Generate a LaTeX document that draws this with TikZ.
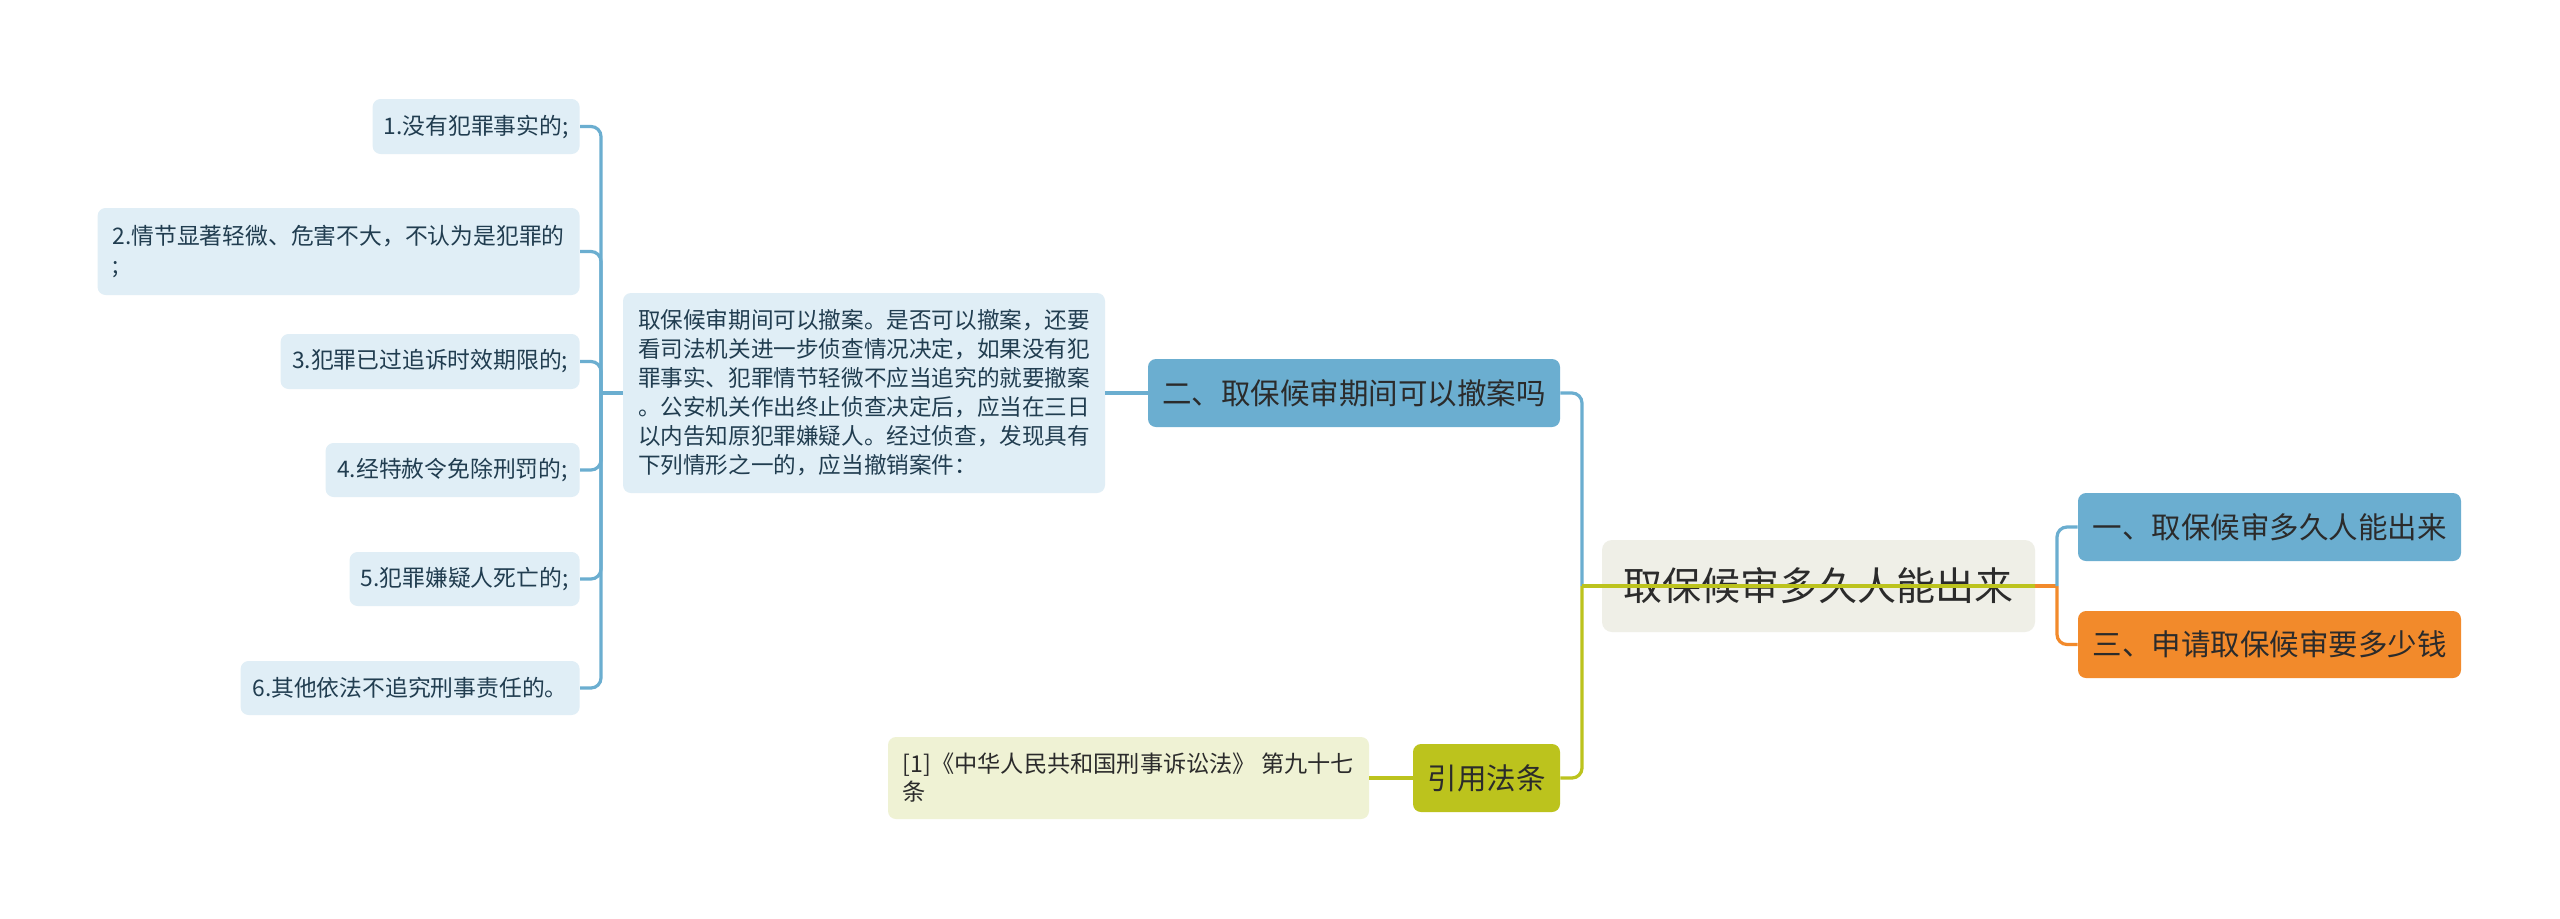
\documentclass[tikz,border=0pt]{standalone}
\usepackage{fontspec}
\setmainfont{Noto Sans CJK SC}
\definecolor{leaffill}{HTML}{E0EEF6}
\definecolor{leaftext}{HTML}{213D50}
\definecolor{bluec}{HTML}{6BAED0}
\definecolor{orangec}{HTML}{F28A2B}
\definecolor{olivec}{HTML}{BCC31D}
\definecolor{rootfill}{HTML}{EFEFE7}
\definecolor{reffill}{HTML}{EFF2D4}
\definecolor{darktext}{HTML}{2B2B2B}
\tikzset{
  leafbox/.style={fill=leaffill, rounded corners=4pt, inner sep=0pt, text=leaftext,
    font=\fontsize{11.4}{14.5}\selectfont, align=left},
  branchbox/.style={rounded corners=4pt, inner sep=0pt, text=darktext,
    font=\fontsize{14.75}{18}\selectfont},
  rootbox/.style={fill=rootfill, rounded corners=5pt, inner sep=0pt, text=darktext,
    font=\fontsize{19.5}{24}\selectfont},
  conn/.style={line width=1.6pt, rounded corners=5pt},
  blueline/.style={conn, draw=bluec},
  greenline/.style={conn, draw=olivec},
  orangeline/.style={conn, draw=orangec},
}
\begin{document}
\begin{tikzpicture}[x=0.5pt, y=-0.5pt]
\useasboundingbox (0,0) rectangle (2560,918);
\fill[white] (0,0) rectangle (2560,918);

% leaves
\node[leafbox, anchor=east, minimum width=103.5pt, minimum height=27.5pt] (l1) at (580,126.5) {1.没有犯罪事实的;};
\node[leafbox, anchor=east, minimum width=241pt, minimum height=43.5pt] (l2) at (580,251.5) {2.情节显著轻微、危害不大，不认为是犯罪的\\;};
\node[leafbox, anchor=east, minimum width=149.5pt, minimum height=27.5pt] (l3) at (580,361.5) {3.犯罪已过追诉时效期限的;};
\node[leafbox, anchor=east, minimum width=127pt, minimum height=27pt] (l4) at (580,470) {4.经特赦令免除刑罚的;};
\node[leafbox, anchor=east, minimum width=115pt, minimum height=27pt] (l5) at (580,579) {5.犯罪嫌疑人死亡的;};
\node[leafbox, anchor=east, minimum width=169.5pt, minimum height=27pt] (l6) at (580,688) {6.其他依法不追究刑事责任的。};

% description
\node[leafbox, font=\fontsize{11.3}{14.5}\selectfont, minimum width=241pt, minimum height=100pt] (desc) at (864,393) {取保候审期间可以撤案。是否可以撤案，还要\\看司法机关进一步侦查情况决定，如果没有犯\\罪事实、犯罪情节轻微不应当追究的就要撤案\\。公安机关作出终止侦查决定后，应当在三日\\以内告知原犯罪嫌疑人。经过侦查，发现具有\\下列情形之一的，应当撤销案件：};

% branches
\node[branchbox, fill=bluec, minimum width=206pt, minimum height=34pt] (n2) at (1354,393) {二、取保候审期间可以撤案吗};
\node[rootbox, minimum width=216.5pt, minimum height=46pt] (root) at (1818.5,586) {取保候审多久人能出来};
\node[branchbox, fill=bluec, minimum width=191.5pt, minimum height=34pt] (n1) at (2269.5,527) {一、取保候审多久人能出来};
\node[branchbox, fill=orangec, minimum width=191.5pt, minimum height=33.5pt] (n3) at (2269.5,644.5) {三、申请取保候审要多少钱};
\node[branchbox, fill=olivec, minimum width=73.5pt, minimum height=34pt] (yin) at (1486.5,778) {引用法条};
\node[leafbox, fill=reffill, text=darktext, font=\fontsize{11.6}{14}\selectfont, minimum width=240.5pt, minimum height=41pt] (ref) at (1128.5,778) {[1]《中华人民共和国刑事诉讼法》 第九十七\\条};

% junctions
\coordinate (js) at (601,393);
\coordinate (jl) at (1582,586);
\coordinate (jr) at (2057,586);

% leaf connectors
\draw[blueline] (desc.west) -- (js);
\draw[blueline] (js) |- (l1.east);
\draw[blueline] (js) |- (l2.east);
\draw[blueline] (js) |- (l3.east);
\draw[blueline] (js) |- (l4.east);
\draw[blueline] (js) |- (l5.east);
\draw[blueline] (js) |- (l6.east);
\draw[blueline] (desc.east) -- (n2.west);

% main connectors
\draw[blueline] (n2.east) -| (jl);
\draw[greenline] (jl) |- (yin.east);
\draw[greenline] (ref.east) -- (yin.west);
\draw[greenline] (jl) -- (root.east);
\draw[orangeline] (root.east) -- (jr);
\draw[orangeline] (jr) |- (n3.west);
\draw[blueline] (jr) |- (n1.west);
\end{tikzpicture}
\end{document}
